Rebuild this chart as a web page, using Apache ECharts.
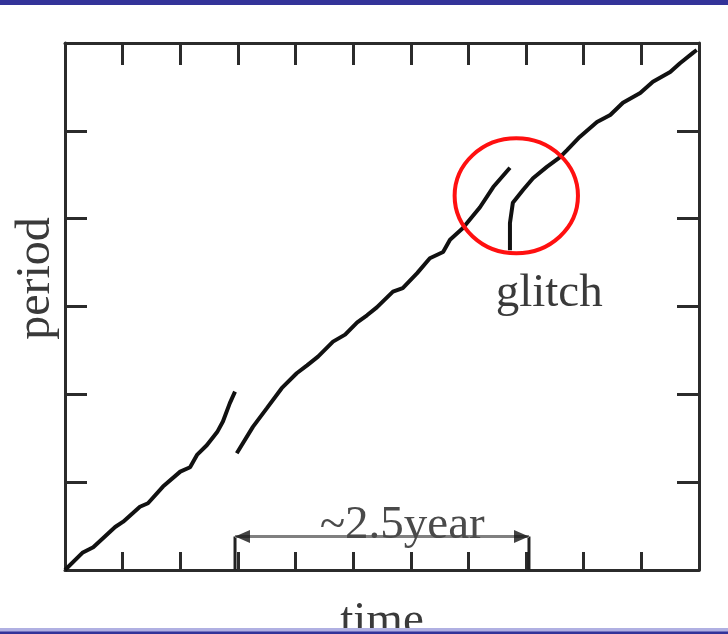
<!DOCTYPE html>
<html><head><meta charset="utf-8">
<script src="https://cdn.jsdelivr.net/npm/echarts@6/dist/echarts.min.js"></script>
<style>html,body{margin:0;padding:0;background:#fff}#c{width:728px;height:634px}</style>
</head><body><div id="c"></div>
<script>
// [time, period] readings (arbitrary units)
const segmentBefore = [[0,0],[0.31,0.20],[0.49,0.26],[0.87,0.49],[1.01,0.55],[1.30,0.72],[1.44,0.76],[1.70,0.95],[2.00,1.12],[2.17,1.17],[2.29,1.31],[2.46,1.42],[2.64,1.57],[2.74,1.69],[2.86,1.90],[2.95,2.03]];
const segmentMiddle = [[2.98,1.33],[3.26,1.63],[3.50,1.84],[3.76,2.07],[4.02,2.24],[4.20,2.33],[4.39,2.43],[4.65,2.60],[4.86,2.68],[5.07,2.82],[5.24,2.90],[5.41,2.99],[5.69,3.17],[5.86,3.21],[6.11,3.38],[6.33,3.55],[6.56,3.62],[6.68,3.76],[6.90,3.89],[7.20,4.13],[7.43,4.36],[7.72,4.58]];
const segmentAfter = [[7.72,3.64],[7.72,3.95],[7.77,4.18],[7.95,4.33],[8.12,4.46],[8.36,4.59],[8.59,4.70],[8.71,4.78],[8.93,4.93],[9.23,5.10],[9.46,5.18],[9.68,5.32],[9.98,5.43],[10.20,5.56],[10.50,5.67],[10.67,5.77],[10.90,5.89],[10.96,5.92]];
const timeRange = [0, 11];
const periodRange = [0, 6];
const spanStart = 2.95, spanEnd = 8.05, spanHeight = 0.38;
const spanLabel = '~2.5year';
const glitchLabel = 'glitch';
const glitchCenter = [7.83, 4.26];
const glitchRadius = [1.07, 0.655];
const xName = 'time', yName = 'period';

const serif = '"Liberation Serif","DejaVu Serif",serif';
const ink = '#2b2b2b';
function axis(extra){
  return Object.assign({
    type:'value', interval:1,
    axisLine:{show:true, onZero:false, lineStyle:{color:ink, width:3}},
    axisTick:{show:true, inside:true, length:22, lineStyle:{color:ink, width:3}},
    axisLabel:{show:false}, splitLine:{show:false}
  }, extra);
}
const chart = echarts.init(document.getElementById('c'));
const lineStyle = {color:'#111', width:4};
chart.setOption({
  animation:false,
  grid:{left:65, right:29, top:43, bottom:64, containLabel:false, outerBoundsMode:'none'},
  xAxis:[
    axis({min:timeRange[0], max:timeRange[1], position:'bottom',
      axisTick:{show:true, inside:true, length:18, lineStyle:{color:ink, width:3}},
      name:xName, nameLocation:'middle', nameGap:28,
      nameTextStyle:{fontFamily:serif, fontSize:47, color:'#3a3a3a'}}),
    axis({min:timeRange[0], max:timeRange[1], position:'top'})
  ],
  yAxis:[
    axis({min:periodRange[0], max:periodRange[1], position:'left',
      name:yName, nameLocation:'middle', nameRotate:90, nameGap:5,
      nameTextStyle:{fontFamily:serif, fontSize:48, color:'#3a3a3a', padding:[0,0,0,56]}}),
    axis({min:periodRange[0], max:periodRange[1], position:'right'})
  ],
  series:[
    {type:'line', data:segmentBefore, symbol:'none', lineStyle, z:5, silent:true},
    {type:'line', data:segmentMiddle, symbol:'none', lineStyle, z:5, silent:true},
    {type:'line', data:segmentAfter, symbol:'none', lineStyle, z:5, silent:true},
    {type:'line', data:[[spanStart,0],[spanStart,spanHeight]], symbol:'none', lineStyle:{color:'#222', width:3}, silent:true,
      markLine:{silent:true, symbol:['none','none'], label:{show:false},
        lineStyle:{color:'#808080', width:3, type:'solid'},
        data:[[{coord:[spanStart,spanHeight]},{coord:[spanEnd,spanHeight]}]]}},
    {type:'line', data:[[spanEnd,spanHeight],[spanEnd,0]], symbol:'none', lineStyle:{color:'#222', width:3}, silent:true},
    {type:'scatter', silent:true, z:6, symbol:'triangle', symbolSize:[13,15],
      itemStyle:{color:'#151515'},
      data:[{value:[spanStart+0.13, spanHeight], symbolRotate:90},{value:[spanEnd-0.13, spanHeight], symbolRotate:-90}]}
  ]
});
const px = p => chart.convertToPixel({gridIndex:0}, p);
const c = px(glitchCenter);
const e = px([glitchCenter[0]+glitchRadius[0], glitchCenter[1]+glitchRadius[1]]);
const gl = px([8.40, 3.15]);
const sp = px([(spanStart+spanEnd)/2 + 0.35, 0.51]);
chart.setOption({graphic:[
  {type:'ellipse', z:50, shape:{cx:c[0], cy:c[1], rx:Math.abs(e[0]-c[0]), ry:Math.abs(e[1]-c[1])},
    style:{fill:'none', stroke:'#ff1010', lineWidth:4}},
  {type:'text', z:50, x:gl[0], y:gl[1], style:{text:glitchLabel, font:'47px "Liberation Serif", serif', fill:'#3a3a3a', align:'center', verticalAlign:'middle'}},
  {type:'text', z:50, x:sp[0], y:sp[1], style:{text:spanLabel, font:'47px "Liberation Serif", serif', fill:'#4a4a4a', align:'center', verticalAlign:'middle'}},
  {type:'rect', z:100, shape:{x:0, y:0, width:728, height:5}, style:{fill:'#333399'}},
  {type:'rect', z:100, shape:{x:0, y:628, width:728, height:6}, style:{fill:'#b0b0e2'}},
  {type:'rect', z:101, shape:{x:0, y:631.5, width:728, height:2.5}, style:{fill:'#333399'}}
]});
</script></body></html>
